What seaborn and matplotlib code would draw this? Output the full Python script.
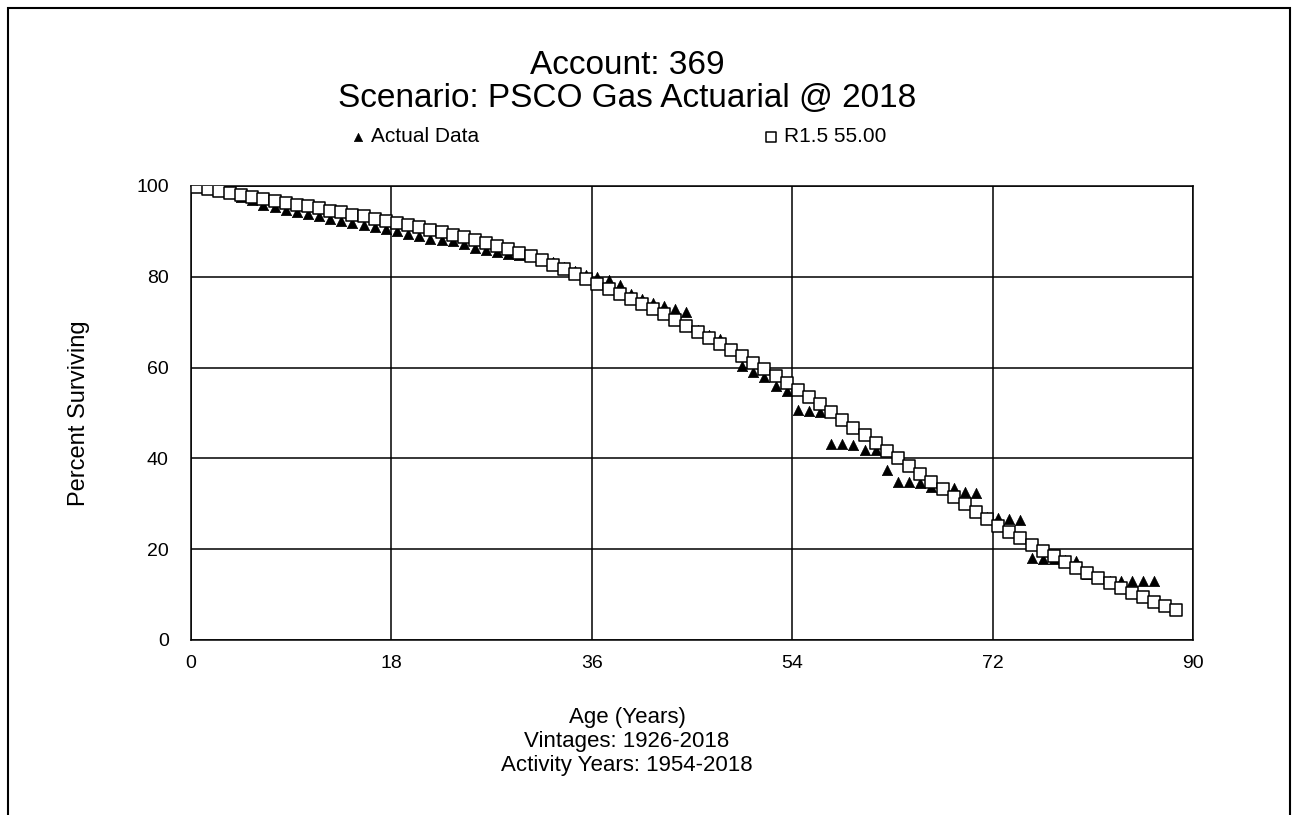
import matplotlib
matplotlib.use('Agg')

import matplotlib.pyplot as plt
import matplotlib.patches as patches
import numpy as np
import seaborn as sns

sns.set_style("white")
plt.rcParams['font.family'] = ['Liberation Sans', 'DejaVu Sans']
plt.rcParams['text.color'] = 'black'
plt.rcParams['axes.labelcolor'] = 'black'
plt.rcParams['xtick.color'] = 'black'
plt.rcParams['ytick.color'] = 'black'

# age grid (years): 0, then mid-year points
fitted_ages = np.concatenate([[0.0], np.arange(0.5, 89.0, 1.0)])
actual_ages = np.concatenate([[0.0], np.arange(0.5, 87.0, 1.0)])

# R1.5 55.00 fitted curve, percent surviving
fitted_pct = [100.0, 99.8, 99.4, 99.0, 98.5, 98.1, 97.6, 97.2, 96.8, 96.3,
              95.9, 95.5, 95.1, 94.6, 94.2, 93.7, 93.3, 92.8, 92.4, 91.9,
              91.4, 90.9, 90.4, 89.8, 89.3, 88.7, 88.1, 87.5, 86.8, 86.1,
              85.3, 84.5, 83.6, 82.7, 81.7, 80.7, 79.6, 78.5, 77.4, 76.3,
              75.2, 74.1, 72.9, 71.7, 70.5, 69.2, 67.9, 66.6, 65.3, 63.9,
              62.6, 61.1, 59.6, 58.1, 56.6, 55.1, 53.5, 51.9, 50.2, 48.5,
              46.8, 45.1, 43.4, 41.7, 40.0, 38.3, 36.6, 34.9, 33.2, 31.6,
              29.9, 28.2, 26.6, 25.2, 23.8, 22.4, 21.0, 19.7, 18.4, 17.1,
              15.9, 14.7, 13.6, 12.5, 11.4, 10.4, 9.4, 8.4, 7.5, 6.6]

# actual data, percent surviving
actual_pct = [100.0, 99.9, 99.5, 99.0, 98.5, 97.6, 96.9, 95.9, 95.3, 94.8,
              94.3, 93.9, 93.4, 92.8, 92.3, 91.9, 91.4, 91.0, 90.6, 90.1,
              89.5, 88.9, 88.4, 88.1, 87.8, 87.3, 86.4, 86.0, 85.5, 85.0,
              84.9, 84.6, 84.0, 83.2, 82.2, 81.3, 80.3, 80.0, 79.3, 78.2,
              76.2, 75.1, 74.2, 73.5, 72.8, 72.2, 68.3, 67.2, 66.2, 64.0,
              60.3, 59.0, 58.0, 55.9, 54.8, 50.6, 50.4, 50.3, 43.2, 43.2,
              43.0, 41.8, 41.8, 37.4, 34.9, 34.9, 34.5, 33.6, 33.5, 33.4,
              32.5, 32.4, 27.0, 26.9, 26.7, 26.5, 18.0, 17.9, 17.8, 17.6,
              17.4, 14.5, 13.6, 13.1, 13.0, 13.0, 13.0, 13.0]

x_ticks = [0, 18, 36, 54, 72, 90]
y_ticks = [0, 20, 40, 60, 80, 100]

fig = plt.figure(figsize=(12.98, 8.15), dpi=100)
ax = fig.add_axes([191/1298, 175/815, 1002/1298, 454/815])

sns.scatterplot(x=actual_ages, y=actual_pct, marker='^', s=55, color='black',
                edgecolor='black', linewidth=0.5, label='Actual Data', ax=ax, zorder=3)
sns.scatterplot(x=fitted_ages, y=fitted_pct, marker='s', s=75, facecolor='white',
                edgecolor='black', linewidth=1.1, label='R1.5 55.00', ax=ax, zorder=4)

ax.set_xlim(0, 90)
ax.set_ylim(0, 100)
ax.set_xticks(x_ticks)
ax.set_yticks(y_ticks)
ax.grid(True, color='black', linewidth=1.1)
ax.set_axisbelow(True)
for s in ax.spines.values():
    s.set_color('black')
    s.set_linewidth(1.1)
ax.tick_params(axis='both', direction='out', length=8, width=1.1, color='black',
               labelsize=14)
ax.tick_params(axis='x', pad=3)
ax.tick_params(axis='y', pad=8)

ax.set_ylabel('Percent Surviving', fontsize=17, labelpad=33)
ax.set_xlabel('')

leg = ax.legend(loc='center', bbox_to_anchor=((618-191)/1002, (640-137)/454), ncol=2,
                frameon=False, fontsize=15, columnspacing=13.6, handletextpad=0.25,
                handlelength=0.8, markerscale=0.8, borderaxespad=0)

fig.text(627/1298, 1-66/815, 'Account: 369', ha='center', va='center', fontsize=24)
fig.text(627/1298, 1-98/815, 'Scenario: PSCO Gas Actuarial @ 2018', ha='center', va='center', fontsize=24)
fig.text(627/1298, 1-717/815, 'Age (Years)', ha='center', va='center', fontsize=16)
fig.text(627/1298, 1-741/815, 'Vintages: 1926-2018', ha='center', va='center', fontsize=16)
fig.text(627/1298, 1-765/815, 'Activity Years: 1954-2018', ha='center', va='center', fontsize=16)

# outer frame of the chart
fig.patches.append(patches.Rectangle((8/1298, -0.05), 1282/1298, 1.05 - 8/815, transform=fig.transFigure,
                                     fill=False, edgecolor='black', linewidth=1.5))

fig.savefig('out.png', dpi=100)
